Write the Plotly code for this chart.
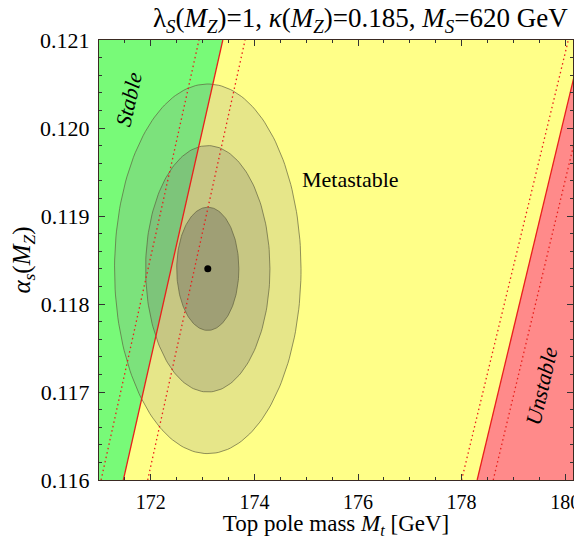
import numpy as np
import plotly.graph_objects as go

# ---- data ----
x_range = [171.0, 180.15]
y_range = [0.116, 0.121]
alpha_ends = [0.116, 0.121]

# stability boundaries: top-mass values at alpha_s = 0.116 and 0.121
stable_line = [171.47, 173.39]
stable_dot_lo = [171.04, 172.93]
stable_dot_hi = [171.94, 173.82]
unstable_line = [178.30, 180.34]
unstable_dot_lo = [178.00, 180.06]
unstable_dot_hi = [178.61, 180.65]

# experimental central value and 1,2,3 sigma ellipses
center_mt = 173.1
center_as = 0.1184
semi_mt = [1.8, 1.2, 0.6]
semi_as = [0.0021, 0.0014, 0.0007]
ellipse_fill = ["rgba(140,140,140,0.22)", "rgba(130,130,120,0.30)", "rgba(110,110,100,0.45)"]

x_ticks = [172, 174, 176, 178, 180]
y_ticks = [0.116, 0.117, 0.118, 0.119, 0.120, 0.121]

FONT = "Liberation Serif"
fig = go.Figure()

# stable (green) region
fig.add_trace(go.Scatter(
    x=[x_range[0] - 1, stable_line[0], stable_line[1], x_range[0] - 1],
    y=[alpha_ends[0], alpha_ends[0], alpha_ends[1], alpha_ends[1]],
    fill="toself", fillcolor="#78fa78", line=dict(width=0), mode="lines",
    hoverinfo="skip", showlegend=False))
# unstable (pink) region
fig.add_trace(go.Scatter(
    x=[unstable_line[0], unstable_line[1], x_range[1] + 1, x_range[1] + 1],
    y=[alpha_ends[0], alpha_ends[1], alpha_ends[1], alpha_ends[0]],
    fill="toself", fillcolor="#ff8a8a", line=dict(width=0), mode="lines",
    hoverinfo="skip", showlegend=False))

# ellipses
t = np.linspace(0, 2 * np.pi, 200)
for a, b, fc in zip(semi_mt, semi_as, ellipse_fill):
    fig.add_trace(go.Scatter(
        x=center_mt + a * np.cos(t), y=center_as + b * np.sin(t),
        fill="toself", fillcolor=fc, mode="lines",
        line=dict(color="rgba(90,90,60,0.65)", width=1),
        hoverinfo="skip", showlegend=False))

# dotted lines
for xs in [stable_dot_lo, stable_dot_hi, unstable_dot_lo, unstable_dot_hi]:
    fig.add_trace(go.Scatter(x=xs, y=alpha_ends, mode="lines",
                             line=dict(color="#e8201c", width=1.3, dash="1.5px,3px"),
                             hoverinfo="skip", showlegend=False))
# solid boundaries
for xs in [stable_line, unstable_line]:
    fig.add_trace(go.Scatter(x=xs, y=alpha_ends, mode="lines",
                             line=dict(color="#e8201c", width=1.3),
                             hoverinfo="skip", showlegend=False))

# central value
fig.add_trace(go.Scatter(x=[center_mt], y=[center_as], mode="markers",
                         marker=dict(color="black", size=7),
                         hoverinfo="skip", showlegend=False))

fig.add_annotation(x=171.58, y=0.12032, text="<i>Stable</i>", showarrow=False,
                   textangle=-77, font=dict(family=FONT, size=22, color="black"))
fig.add_annotation(x=175.85, y=0.11941, text="Metastable", showarrow=False,
                   font=dict(family=FONT, size=22, color="black"))
fig.add_annotation(x=179.55, y=0.11707, text="<i>Unstable</i>", showarrow=False,
                   textangle=-77, font=dict(family=FONT, size=22, color="black"))

axis_common = dict(showline=True, linecolor="#3a2a22", linewidth=1.2, mirror="allticks",
                   ticks="inside", ticklen=6, tickcolor="#333", showgrid=False, zeroline=False,
                   automargin=False, ticklabeloverflow="allow")

fig.update_xaxes(range=x_range, tickvals=x_ticks, ticktext=[str(v) for v in x_ticks],
                 ticklabelstandoff=4, tickfont=dict(family=FONT, size=20, color="black"),
                 minor=dict(dtick=0.5, ticks="inside", ticklen=3, tickcolor="#333", tick0=171),
                 title=dict(text="Top pole mass <i>M</i><sub><i>t</i></sub> [GeV]",
                            font=dict(family=FONT, size=23, color="black"), standoff=10),
                 **axis_common)
fig.update_yaxes(range=y_range, tickvals=y_ticks, ticktext=[f"{v:.3f}" for v in y_ticks],
                 ticklabelstandoff=4, tickfont=dict(family=FONT, size=22, color="black"),
                 minor=dict(dtick=0.0002, ticks="inside", ticklen=3, tickcolor="#333", tick0=0.116),
                 title=dict(text="<i>α</i><sub><i>s</i></sub>(<i>M</i><sub><i>Z</i></sub>)",
                            font=dict(family=FONT, size=25, color="black"), standoff=12),
                 **axis_common)

fig.update_layout(
    width=574, height=531,
    margin=dict(l=91, r=9, t=32, b=59, autoexpand=False),
    plot_bgcolor="#ffff88", paper_bgcolor="white",
    title=dict(text="λ<sub><i>S</i></sub>(<i>M</i><sub><i>Z</i></sub>)=1, <i>κ</i>(<i>M</i><sub><i>Z</i></sub>)=0.185, <i>M</i><sub><i>S</i></sub>=620 GeV",
               font=dict(family=FONT, size=27, color="black"),
               x=0.975, xanchor="right", y=0.999, yanchor="top"),
)

fig.write_html("out.html")
